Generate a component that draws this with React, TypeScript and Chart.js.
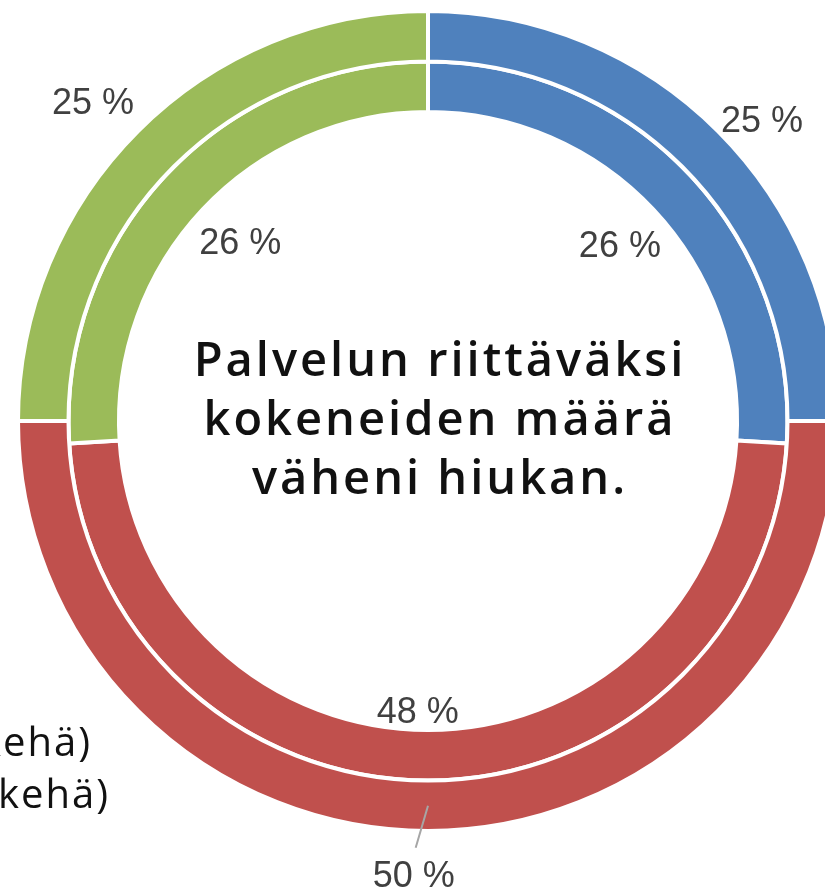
import React, { useEffect, useRef } from "react";
import { Chart, registerables } from "chart.js";

Chart.register(...registerables);

const categories = ["Kyllä", "Osittain", "Ei"];
const outerValues = [25, 50, 25]; // ulkokehä
const innerValues = [26, 48, 26]; // sisäkehä
const colors = ["#4F81BD", "#C0504D", "#9BBB59"];
const legendLines = ["2021 (ulkokehä)", "2020 (sisäkehä)"];
const titleLines = ["Palvelun riittäväksi", "kokeneiden määrä", "väheni hiukan."];

// label placement: radial offset from ring edge and angular nudge (deg)
const outerLabelStyle = [
  { dr: 38, da: 3.2 },
  { dr: 46, da: 1.8, leader: true },
  { dr: 51, da: -1.6 },
];
const innerLabelStyle = [
  { dr: -50, da: 1.0 },
  { dr: -17, da: 2.0 },
  { dr: -51, da: 0.1 },
];

const labelPlugin = {
  id: "pctLabels",
  afterDatasetsDraw(chart: any) {
    const ctx = chart.ctx;
    ctx.save();
    ctx.font = "36px 'Liberation Sans', Arial, sans-serif";
    ctx.fillStyle = "#404040";
    ctx.textAlign = "center";
    ctx.textBaseline = "middle";
    chart.data.datasets.forEach((ds: any, di: number) => {
      const meta = chart.getDatasetMeta(di);
      const styles = di === 0 ? outerLabelStyle : innerLabelStyle;
      meta.data.forEach((arc: any, i: number) => {
        const st = styles[i];
        const mid = (arc.startAngle + arc.endAngle) / 2 + (st.da * Math.PI) / 180;
        const base = di === 0 ? arc.outerRadius : arc.innerRadius;
        const r = base + st.dr;
        const x = arc.x + Math.cos(mid) * r;
        const y = arc.y + Math.sin(mid) * r;
        if (st.leader) {
          const m = (arc.startAngle + arc.endAngle) / 2;
          const rm = (arc.outerRadius + arc.innerRadius) / 2;
          ctx.beginPath();
          ctx.strokeStyle = "#A6A6A6";
          ctx.lineWidth = 2;
          ctx.moveTo(arc.x + Math.cos(m) * rm, arc.y + Math.sin(m) * rm);
          ctx.lineTo(x + 2, y - 29);
          ctx.stroke();
        }
        ctx.fillText(ds.data[i] + " %", x, y);
      });
    });
    ctx.restore();
  },
};

export default function App() {
  const ref = useRef<HTMLCanvasElement>(null);
  useEffect(() => {
    if (!ref.current) return;
    const chart = new Chart(ref.current, {
      type: "doughnut",
      data: {
        labels: categories,
        datasets: [
          { data: outerValues, backgroundColor: colors, borderColor: "#ffffff", borderWidth: 4 },
          { data: innerValues, backgroundColor: colors, borderColor: "#ffffff", borderWidth: 4 },
        ],
      },
      options: {
        responsive: false,
        animation: false,
        events: [],
        radius: 410,
        cutout: "75.37%",
        layout: { padding: 0 },
        plugins: {
          legend: { display: false },
          tooltip: { enabled: false },
          title: { display: false },
        },
      } as any,
      plugins: [labelPlugin],
    });
    return () => chart.destroy();
  }, []);

  const titleFont = "'Open Sans', Lato, sans-serif";
  return (
    <div
      style={{
        position: "fixed",
        left: 0,
        top: 0,
        width: 825,
        height: 893,
        overflow: "hidden",
        background: "#ffffff",
      }}
    >
      <canvas
        ref={ref}
        width={1000}
        height={1000}
        style={{ position: "absolute", left: -72, top: -79, width: 1000, height: 1000 }}
      />
      <div
        style={{
          position: "absolute",
          left: 140,
          width: 600,
          top: 329,
          textAlign: "center",
          fontFamily: titleFont,
          fontWeight: 600,
          fontSize: 47,
          lineHeight: "59px",
          letterSpacing: 3,
          color: "#111111",
        }}
      >
        {titleLines.map((t, i) => (
          <div key={i}>{t}</div>
        ))}
      </div>
      {legendLines.map((t, i) => (
        <div
          key={i}
          style={{
            position: "absolute",
            right: 825 - (i === 0 ? 92 : 110),
            top: 716 + i * 52,
            whiteSpace: "nowrap",
            fontFamily: titleFont,
            fontSize: 40,
            lineHeight: "50px",
            letterSpacing: 2,
            color: "#111111",
          }}
        >
          {t}
        </div>
      ))}
    </div>
  );
}
